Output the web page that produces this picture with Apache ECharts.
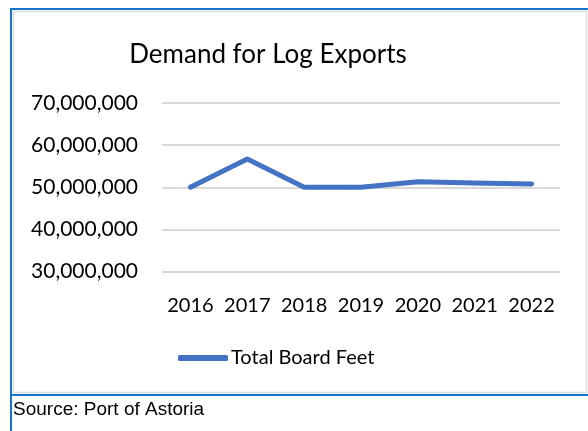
<!DOCTYPE html>
<html>
<head>
<meta charset="utf-8">
<script src="https://cdn.jsdelivr.net/npm/echarts@6/dist/echarts.min.js"></script>
<style>
  html, body { margin: 0; padding: 0; background: #fff; }
  #chart { width: 588px; height: 431px; }
</style>
</head>
<body>
<div id="chart"></div>
<script>
// Annual log export volume (board feet)
const years = ['2016', '2017', '2018', '2019', '2020', '2021', '2022'];
const boardFeet = [50000000, 56700000, 50000000, 50000000, 51300000, 51000000, 50800000];
const yTicks = [30000000, 40000000, 50000000, 60000000, 70000000];
const seriesName = 'Total Board Feet';
const titleText = 'Demand for Log Exports';
const sourceText = 'Source: Port of Astoria';

const chart = echarts.init(document.getElementById('chart'), null, { renderer: 'canvas' });
const font = 'Lato, "Open Sans", sans-serif';
const blue = '#1874c8';
const frameGray = '#dcdcdc';

chart.setOption({
  animation: false,
  backgroundColor: '#fff',
  title: {
    text: titleText,
    left: 263, top: 37, textAlign: 'center',
    textStyle: { fontFamily: font, fontSize: 26, fontWeight: 'normal', color: '#000' }
  },
  grid: { left: 162, right: 28, top: 103, height: 168.5, containLabel: false },
  legend: {
    data: [seriesName],
    left: 173, top: 343,
    itemWidth: 50, itemHeight: 6, itemGap: 4,
    icon: 'roundRect',
    textStyle: { fontFamily: font, fontSize: 20, color: '#000', padding: [0, 0, 0, -2] }
  },
  xAxis: {
    type: 'category',
    data: years,
    boundaryGap: true,
    axisLine: { show: false },
    axisTick: { show: false },
    axisLabel: { interval: 0, fontFamily: font, fontSize: 20, color: '#000', margin: 24 }
  },
  yAxis: {
    type: 'value',
    min: yTicks[0], max: yTicks[yTicks.length - 1], interval: 10000000,
    axisLine: { show: false },
    axisTick: { show: false },
    splitLine: { lineStyle: { color: '#d9d9d9', width: 2 } },
    axisLabel: {
      fontFamily: font, fontSize: 21, color: '#000', margin: 24,
      formatter: v => v.toLocaleString('en-US')
    }
  },
  series: [{
    name: seriesName,
    type: 'line',
    data: boardFeet,
    symbol: 'none',
    lineStyle: { color: '#4472C4', width: 5, cap: 'round', join: 'round' },
    itemStyle: { color: '#4472C4' }
  }],
  graphic: [
    // inner light frame of the chart area
    { type: 'rect', shape: { x: 13.5, y: 11.5, width: 573, height: 381 }, style: { fill: 'none', stroke: frameGray, lineWidth: 1.5 }, silent: true },
    // outer blue frame
    { type: 'rect', shape: { x: 10, y: 8, width: 590, height: 2 }, style: { fill: blue }, silent: true },
    { type: 'rect', shape: { x: 10, y: 8, width: 2, height: 423 }, style: { fill: blue }, silent: true },
    { type: 'rect', shape: { x: 10, y: 394, width: 590, height: 2 }, style: { fill: blue }, silent: true },
    // source note
    { type: 'text', left: 13, top: 400, style: { text: sourceText, font: '19px "Liberation Sans", Arial, sans-serif', fill: '#000' }, silent: true }
  ]
});
</script>
</body>
</html>
